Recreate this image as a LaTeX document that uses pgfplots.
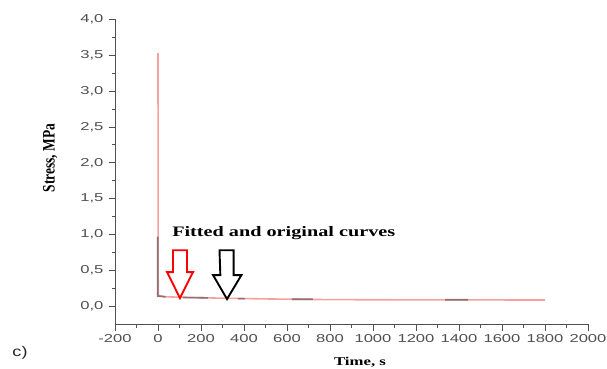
\documentclass[border=0pt]{standalone}
\usepackage{fontspec}
\setmainfont{Liberation Sans}
\newfontfamily\tnr{Liberation Serif}
\usepackage{pgfplots}
\pgfplotsset{compat=1.18}
\definecolor{axgray}{RGB}{80,80,80}
\definecolor{pinkline}{RGB}{247,160,160}
\definecolor{origgray}{RGB}{145,110,115}
\begin{document}
\begin{tikzpicture}
\useasboundingbox (0,0) rectangle (607bp,369bp);
\begin{axis}[
  at={(115bp,45bp)}, anchor=south west,
  scale only axis, width=473bp, height=304.5bp,
  xmin=-200, xmax=2000, ymin=-0.25, ymax=4.0,
  axis lines=left, axis line style={-, axgray, line width=1pt},
  xtick={-200,0,...,2000}, ytick={0,0.5,...,4.0},
  minor x tick num=1, minor y tick num=1,
  tick align=outside, tick style={axgray, line width=0.9pt},
  major tick length=6.5bp, minor tick length=3.5bp,
  /pgf/number format/assume math mode=true,
  ticklabel style={font=\fontsize{11.5}{13}\selectfont, text=axgray, xscale=1.45},
  xticklabel style={/pgf/number format/1000 sep={}},
  yticklabel style={/pgf/number format/.cd, fixed, fixed zerofill, precision=1, use comma},
  xlabel={\tnr\bfseries Time, s},
  ylabel={\tnr\bfseries Stress, MPa},
  xlabel style={at={(axis description cs:0.518,-0.125)}, anchor=center, font=\fontsize{12}{14}\selectfont, xscale=1.4},
  ylabel style={at={(axis description cs:-0.137,0.545)}, anchor=center, rotate=0, font=\fontsize{13.5}{15}\selectfont, yscale=1.3},
  unbounded coords=jump,
  clip=false,
]
\addplot[pinkline, line width=1.6pt] coordinates {
 (0,3.53) (1,0.15) (30,0.13) (150,0.12) (300,0.11) (500,0.10) (800,0.09) (1200,0.087) (1800,0.085)
};
\addplot[origgray, line width=1.6pt] coordinates {
 (-1,0.97) (-1,0.14) (35,0.13) (36,nan)
 (116,0.12) (233,0.115) (234,nan)
 (372,0.105) (405,0.105) (406,nan)
 (623,0.095) (720,0.095) (721,nan)
 (1335,0.088) (1442,0.088)
};
\draw[red, line width=1.9pt, line join=miter]
 (axis cs:70,0.78) -- (axis cs:135,0.78) -- (axis cs:135,0.475) -- (axis cs:163,0.475)
 -- (axis cs:102,0.112) -- (axis cs:42,0.475) -- (axis cs:70,0.475) -- cycle;
\draw[black, line width=1.9pt, line join=miter]
 (axis cs:286,0.78) -- (axis cs:352,0.78) -- (axis cs:352,0.433) -- (axis cs:388,0.433)
 -- (axis cs:321,0.098) -- (axis cs:256,0.433) -- (axis cs:290,0.433) -- cycle;
\node[anchor=west, font=\tnr\bfseries\fontsize{14.5}{16}\selectfont, xscale=1.4, inner sep=0pt] at (axis cs:65,1.02) {Fitted and original curves};
\end{axis}
\node[anchor=center, font=\fontsize{14}{16}\selectfont, xscale=1.3, text=black!85] at (20bp,16bp) {c)};
\end{tikzpicture}
\end{document}
